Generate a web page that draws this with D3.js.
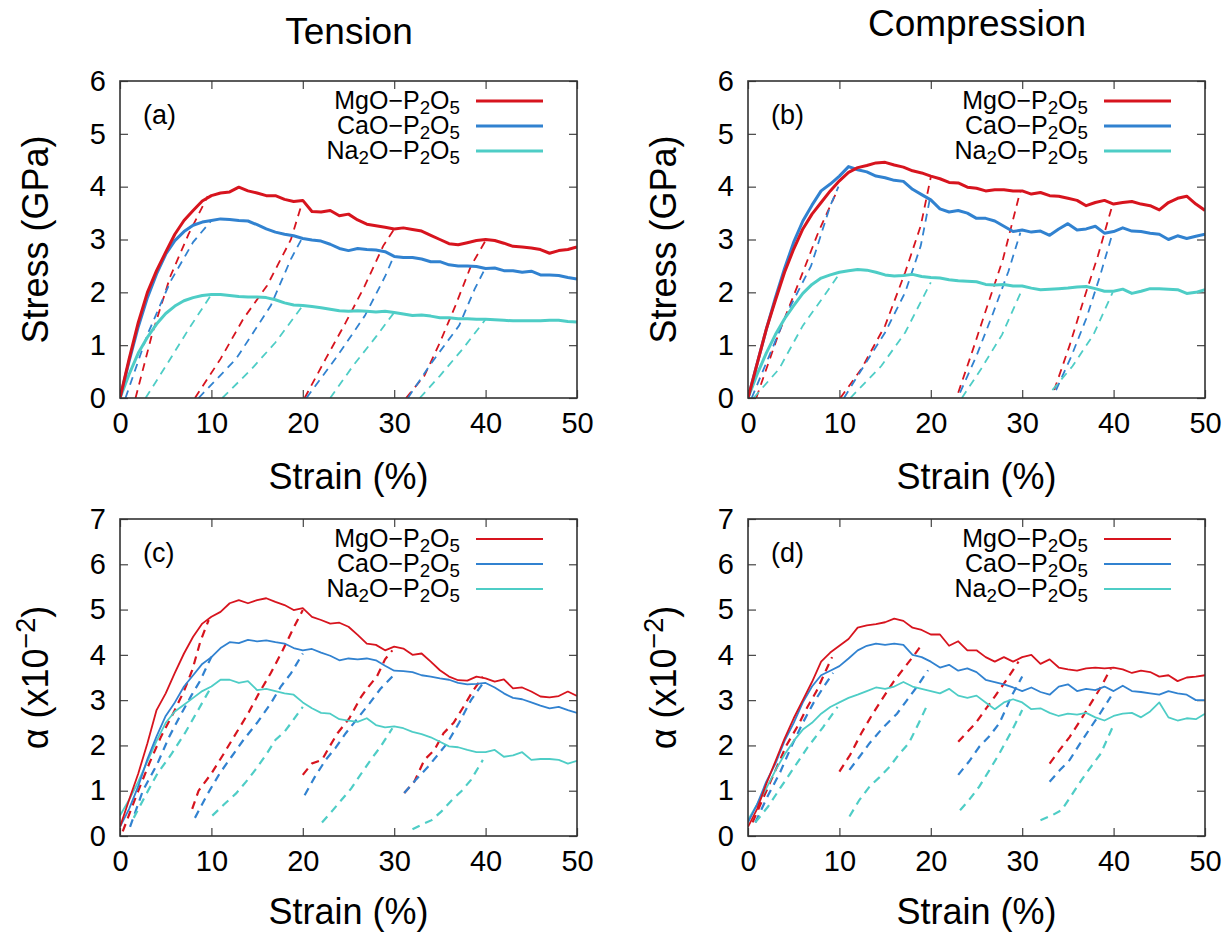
<!DOCTYPE html>
<html><head><meta charset="utf-8">
<script src="https://cdn.jsdelivr.net/npm/d3@7/dist/d3.min.js"></script>
<style>body{margin:0;background:#fff}</style>
</head><body>
<svg id="chart" width="1230" height="932"></svg>
<script>
// ---------------- DATA ----------------
const strainGrid = [0,1,2,3,4,5,6,7,8,9,10,11,12,13,14,15,16,17,18,19,20,21,22,23,24,25,26,27,28,29,30,31,32,33,34,35,36,37,38,39,40,41,42,43,44,45,46,47,48,49,50];
const seriesNames = ["MgO-P2O5","CaO-P2O5","Na2O-P2O5"];
const xTicks = [0,10,20,30,40,50];
const stressTicks = [0,1,2,3,4,5,6];
const alphaTicks = [0,1,2,3,4,5,6,7];
const panelLabels = ["(a)","(b)","(c)","(d)"];
const columnTitles = ["Tension","Compression"];

// (a) tension stress, solid
const tenStressMg = [0,0.74,1.43,2.0,2.41,2.76,3.1,3.36,3.55,3.73,3.83,3.88,3.9,3.99,3.92,3.88,3.83,3.83,3.76,3.72,3.74,3.53,3.52,3.55,3.45,3.48,3.37,3.29,3.26,3.23,3.2,3.22,3.19,3.16,3.08,3.0,2.92,2.9,2.94,2.98,3.0,2.98,2.93,2.87,2.86,2.84,2.81,2.74,2.79,2.81,2.86];
const tenStressCa = [0,0.7,1.35,1.9,2.35,2.72,2.98,3.15,3.27,3.33,3.36,3.39,3.38,3.36,3.35,3.28,3.2,3.14,3.1,3.07,3.02,2.99,2.97,2.91,2.83,2.79,2.83,2.81,2.8,2.77,2.68,2.66,2.66,2.63,2.58,2.58,2.52,2.5,2.5,2.49,2.45,2.46,2.41,2.41,2.38,2.4,2.33,2.33,2.32,2.28,2.25];
const tenStressNa = [0,0.45,0.85,1.15,1.4,1.6,1.74,1.84,1.9,1.94,1.96,1.96,1.94,1.92,1.91,1.91,1.9,1.86,1.8,1.76,1.75,1.73,1.71,1.68,1.65,1.64,1.65,1.64,1.63,1.64,1.62,1.59,1.56,1.57,1.55,1.52,1.52,1.5,1.5,1.49,1.49,1.48,1.47,1.46,1.46,1.46,1.46,1.47,1.47,1.45,1.44];
// (a) reloading curves, dashed: [strain, stress]
const tenStressMgDash = [
  [[1.7,0],[3.5,1.2],[5.5,2.3],[7.5,3.1],[9.6,3.82]],
  [[8.2,0],[11,0.74],[13.5,1.5],[16.1,2.13],[18.7,3.0],[19.9,3.68]],
  [[20.2,0],[22.5,0.74],[24.7,1.43],[26.8,2.13],[28.8,2.88],[30,3.2]],
  [[31.3,0],[33.3,0.42],[35,1.05],[36.7,1.75],[38.4,2.5],[40,2.98]]];
const tenStressCaDash = [
  [[0.6,0],[3,1.2],[5.5,2.2],[8,2.95],[10,3.36]],
  [[8.6,0],[12.7,0.74],[16.5,1.75],[18.7,2.63],[20,3.05]],
  [[20.4,0],[23.8,0.8],[26.8,1.56],[29,2.3],[30,2.7]],
  [[31.5,0],[34.1,0.67],[37.1,1.37],[38.8,2.06],[40,2.47]]];
const tenStressNaDash = [
  [[2.8,0],[5,0.6],[7.5,1.3],[10,1.96]],
  [[11.2,0],[14.4,0.55],[17,1.05],[20,1.75]],
  [[23,0],[25.5,0.61],[28.1,1.18],[30,1.62]],
  [[32.8,0],[35,0.42],[37.5,0.93],[40,1.49]]];

// (b) compression stress, solid
const comStressMg = [0,0.65,1.3,1.85,2.38,2.82,3.2,3.48,3.7,3.92,4.11,4.27,4.36,4.4,4.45,4.46,4.41,4.37,4.3,4.26,4.2,4.15,4.08,4.07,3.99,3.97,3.92,3.94,3.94,3.92,3.92,3.86,3.89,3.83,3.82,3.78,3.74,3.64,3.7,3.74,3.67,3.7,3.72,3.67,3.64,3.56,3.7,3.78,3.82,3.67,3.55];
const comStressCa = [0,0.65,1.3,1.9,2.45,2.95,3.35,3.65,3.92,4.05,4.2,4.38,4.32,4.28,4.2,4.17,4.12,4.1,3.95,3.85,3.75,3.58,3.52,3.55,3.5,3.4,3.4,3.35,3.25,3.15,3.18,3.14,3.16,3.08,3.2,3.3,3.18,3.2,3.25,3.12,3.15,3.22,3.16,3.15,3.12,3.1,3.0,3.07,3.02,3.06,3.1];
const comStressNa = [0,0.45,0.85,1.2,1.5,1.75,1.98,2.15,2.27,2.33,2.38,2.41,2.43,2.42,2.38,2.33,2.31,2.32,2.34,2.3,2.28,2.27,2.24,2.22,2.21,2.2,2.15,2.14,2.15,2.12,2.12,2.08,2.05,2.06,2.07,2.08,2.1,2.11,2.07,2.02,2.02,2.06,1.98,2.02,2.07,2.07,2.06,2.05,1.98,2.0,2.05];
const comStressMgDash = [
  [[0.9,0],[3.4,1.24],[6,2.38],[7.7,3.14],[9.7,3.9]],
  [[10.1,0],[12.4,0.55],[15,1.37],[17.2,2.38],[18.9,3.26],[20,4.18]],
  [[23,0.1],[24.5,0.86],[26.2,1.75],[27.9,2.63],[29.8,3.92]],
  [[33.5,0.15],[35.2,1.0],[36.8,1.9],[38.3,2.7],[39.9,3.67]]];
const comStressCaDash = [
  [[0.4,0],[4.3,1.62],[6.9,2.5],[9,3.64],[9.9,4.0]],
  [[10.5,0],[12,0.42],[15,1.24],[17.2,2.0],[18.9,2.88],[20,3.86]],
  [[23.2,0.1],[25,0.8],[26.8,1.6],[28.5,2.4],[29.8,3.13]],
  [[33.7,0.15],[35.4,0.8],[37,1.5],[38.5,2.3],[39.9,3.13]]];
const comStressNaDash = [
  [[0.6,0],[3.4,0.55],[6,1.37],[8.6,2.0],[10.1,2.38]],
  [[11.2,0],[14.6,0.61],[17.2,1.24],[20,2.19]],
  [[23.4,0],[25.5,0.55],[27.8,1.2],[30,2.06]],
  [[33.3,0.15],[35.5,0.6],[37.8,1.2],[39.9,2.0]]];

// (c) tension alpha, solid
const tenAlphaMg = [0.2,0.8,1.38,2.05,2.78,3.15,3.6,4.03,4.4,4.69,4.84,4.95,5.14,5.21,5.14,5.21,5.25,5.17,5.1,4.99,5.03,4.84,4.77,4.69,4.71,4.62,4.44,4.25,4.22,4.1,4.18,4.14,4.0,4.03,3.85,3.66,3.52,3.44,3.43,3.52,3.48,3.41,3.46,3.26,3.28,3.19,3.08,3.06,3.09,3.19,3.09];
const tenAlphaCa = [0.2,0.6,1.1,1.7,2.2,2.65,2.95,3.3,3.55,3.8,3.95,4.15,4.28,4.26,4.33,4.3,4.32,4.28,4.25,4.15,4.1,4.13,4.05,3.98,3.88,3.92,3.9,3.92,3.88,3.76,3.65,3.64,3.62,3.55,3.52,3.48,3.45,3.38,3.35,3.36,3.38,3.28,3.15,3.05,3.02,2.95,2.88,2.82,2.85,2.78,2.72];
const tenAlphaNa = [0.45,0.8,1.2,1.65,2.1,2.5,2.75,2.9,3.05,3.2,3.3,3.45,3.45,3.38,3.42,3.22,3.25,3.2,3.15,3.12,2.95,2.82,2.72,2.7,2.58,2.55,2.52,2.6,2.45,2.4,2.42,2.38,2.3,2.25,2.18,2.08,1.98,1.96,1.9,1.85,1.85,1.9,1.75,1.78,1.85,1.68,1.7,1.7,1.68,1.6,1.66];
const tenAlphaMgDash = [
  [[0.3,0.1],[1.8,0.9],[3.2,1.6],[4.5,2.2],[5.8,2.7],[7,3.2],[7.9,3.66],[8.8,4.3],[9.7,4.77]],
  [[7.9,0.6],[8.6,1.0],[10,1.38],[11.3,1.8],[12.7,2.27],[14,2.7],[15.2,3.15],[16.5,3.6],[17.8,4.1],[19,4.6],[20,4.99]],
  [[20,1.35],[21,1.6],[22.1,1.68],[23,2.0],[23.8,2.27],[25.1,2.6],[26.4,3.08],[27.2,3.3],[28.1,3.52],[29,3.9],[29.8,4.1]],
  [[31.1,0.95],[32.2,1.2],[33.3,1.68],[34.4,1.9],[35.4,2.27],[36.5,2.5],[37.6,2.86],[38.6,3.2],[39.7,3.52]]];
const tenAlphaCaDash = [
  [[1.1,0.2],[2.5,1.0],[4.1,1.6],[5.4,2.2],[6.7,2.7],[7.8,3.1],[8.8,3.44],[10,3.96]],
  [[8.2,0.4],[9.5,0.9],[10.9,1.38],[12.2,1.75],[13.5,2.12],[15,2.5],[16.5,2.93],[17.6,3.3],[18.7,3.59],[20,4.03]],
  [[20.2,0.9],[21.3,1.3],[22.5,1.68],[23.6,1.95],[24.7,2.27],[26,2.6],[27.3,2.93],[28.5,3.25],[29.8,3.52]],
  [[31.1,0.95],[32.4,1.25],[33.7,1.53],[34.8,1.8],[35.8,2.05],[37.1,2.5],[38.4,3.0],[39.7,3.37]]];
const tenAlphaNaDash = [
  [[1.5,0.4],[2.8,0.9],[4.1,1.38],[5.6,1.8],[7.1,2.27],[8.6,2.8],[10,3.3]],
  [[10.1,0.45],[11.4,0.7],[12.7,0.94],[13.8,1.2],[14.8,1.46],[16,1.8],[17,2.12],[18,2.3],[18.7,2.49],[20,2.85]],
  [[22.1,0.3],[23.2,0.55],[24.2,0.79],[25.3,1.05],[26.4,1.38],[27.5,1.7],[28.5,1.97],[29.8,2.38]],
  [[32,0.15],[33,0.25],[34.1,0.35],[35.2,0.55],[36.3,0.79],[37.4,1.0],[38.4,1.24],[39.7,1.68]]];

// (d) compression alpha, solid
const comAlphaMg = [0.2,0.6,1.15,1.65,2.15,2.6,3.0,3.4,3.85,4.05,4.2,4.35,4.6,4.65,4.68,4.72,4.8,4.75,4.6,4.55,4.45,4.45,4.2,4.3,4.1,4.1,3.95,3.85,3.95,3.85,3.95,4.0,3.8,3.9,3.72,3.68,3.65,3.7,3.72,3.7,3.72,3.68,3.6,3.65,3.62,3.52,3.55,3.42,3.5,3.52,3.55];
const comAlphaCa = [0.3,0.7,1.2,1.6,2.1,2.5,2.95,3.3,3.55,3.65,3.75,3.92,4.1,4.2,4.25,4.22,4.25,4.22,4.0,3.95,3.85,3.72,3.78,3.65,3.7,3.62,3.45,3.4,3.35,3.28,3.2,3.28,3.18,3.12,3.3,3.35,3.2,3.25,3.22,3.3,3.2,3.32,3.2,3.18,3.15,3.12,3.2,3.15,3.12,3.0,3.0];
const comAlphaNa = [0.35,0.7,1.05,1.45,1.8,2.1,2.35,2.5,2.7,2.85,2.95,3.05,3.12,3.2,3.28,3.25,3.3,3.4,3.3,3.25,3.2,3.15,3.25,3.1,3.05,3.1,2.95,2.8,2.95,3.02,2.95,2.8,2.82,2.72,2.65,2.7,2.68,2.72,2.62,2.55,2.65,2.7,2.72,2.62,2.75,2.95,2.62,2.55,2.6,2.58,2.7];
const comAlphaMgDash = [
  [[0.5,0.3],[1.8,0.9],[3,1.45],[4.2,2.0],[5.5,2.45],[6.5,2.85],[7.5,3.2],[8.4,3.6],[9.2,3.95]],
  [[10,1.42],[11.2,1.8],[12.4,2.27],[13.5,2.65],[14.6,3.0],[15.9,3.4],[17.2,3.74],[18.2,4.0],[19.1,4.25]],
  [[23,2.08],[24,2.3],[24.9,2.49],[26,2.8],[27,3.08],[28.3,3.45],[29.6,3.85]],
  [[33,1.6],[34.1,1.9],[35.2,2.19],[36.2,2.5],[37.3,2.86],[38.5,3.25],[39.7,3.7]]];
const comAlphaCaDash = [
  [[0.8,0.3],[2.2,0.9],[3.5,1.4],[4.8,2.0],[6,2.5],[7.2,2.95],[8.3,3.3],[9.3,3.6]],
  [[11.1,1.46],[12.2,1.75],[13.3,2.05],[14.8,2.4],[16.3,2.7],[17.4,3.0],[18.5,3.3],[19.7,3.66]],
  [[23,1.35],[24.2,1.65],[25.3,1.97],[26.4,2.2],[27.5,2.49],[28.2,2.8],[28.8,3.08],[30,3.52]],
  [[33,1.2],[34.1,1.45],[35.2,1.68],[36.2,2.0],[37.3,2.34],[38.5,2.7],[39.7,3.08]]];
const comAlphaNaDash = [
  [[0.8,0.3],[2.2,0.65],[3.5,1.05],[5,1.5],[6.5,1.95],[8.2,2.4],[9.8,2.85]],
  [[11.1,0.43],[12.2,0.8],[13.3,1.09],[14.4,1.3],[15.5,1.53],[16.5,1.8],[17.6,2.05],[18.7,2.5],[19.7,2.93]],
  [[23.2,0.57],[24.2,0.8],[25.3,1.09],[26.4,1.45],[27.5,1.82],[28.8,2.3],[30,2.78]],
  [[32,0.35],[33.2,0.45],[34.3,0.57],[35.4,0.9],[36.5,1.24],[37.6,1.55],[38.6,1.82],[39.9,2.41]]];

// ---------------- DRAWING ----------------
const colors = ["#d7141e", "#3182d0", "#4ecdc6"];
const FONT = "'Liberation Sans', Arial, Helvetica, sans-serif";
const svg = d3.select("#chart");
svg.append("rect").attr("width",1230).attr("height",932).attr("fill","#fff");

const layout = {
  cols: [{x0:120, x1:577}, {x0:748, x1:1205}],
  rows: [{y0:81, y1:398}, {y0:519, y1:836}]
};

function addSubText(t, name) {
  // "Na2O-P2O5" -> digits drawn as subscripts
  const parts = name.replace("-", "\u2212").split(/(\d)/).filter(p => p !== "");
  let lowered = false;
  parts.forEach(p => {
    if (/\d/.test(p)) {
      t.append("tspan").attr("dy", "0.28em").attr("font-size", "0.75em").text(p);
      lowered = true;
    } else {
      const ts = t.append("tspan").text(p);
      if (lowered) { ts.attr("dy", "-0.21em"); lowered = false; }
    }
  });
}

function drawPanel(p) {
  const col = layout.cols[p.col], row = layout.rows[p.row];
  const x = d3.scaleLinear().domain([0,50]).range([col.x0, col.x1]);
  const y = d3.scaleLinear().domain([0,p.yMax]).range([row.y1, row.y0]);
  const g = svg.append("g");
  const clipId = "clip" + p.label.replace(/\W/g,"");
  svg.append("clipPath").attr("id", clipId).append("rect")
    .attr("x", col.x0).attr("y", row.y0).attr("width", col.x1-col.x0).attr("height", row.y1-row.y0);

  // axes with inward ticks on all four sides
  const tk = 8;
  const axB = d3.axisBottom(x).tickValues(xTicks).tickSize(-tk).tickPadding(14).tickFormat(d3.format("d"));
  const axT = d3.axisTop(x).tickValues(xTicks).tickSize(-tk).tickFormat("");
  const axL = d3.axisLeft(y).tickValues(p.yTicks).tickSize(-tk).tickPadding(14).tickFormat(d3.format("d"));
  const axR = d3.axisRight(y).tickValues(p.yTicks).tickSize(-tk).tickFormat("");
  [[axB,`translate(0,${row.y1})`,true],[axT,`translate(0,${row.y0})`,false],
   [axL,`translate(${col.x0},0)`,true],[axR,`translate(${col.x1},0)`,false]]
    .forEach(([ax,tr,labels]) => {
      const a = g.append("g").attr("transform", tr).call(ax);
      a.select(".domain").remove();
      a.selectAll("line").attr("stroke","#444").attr("stroke-width",1.2);
      if (labels) {
        a.selectAll("text").attr("font-family",FONT).attr("font-size",29).attr("fill","#000");
      } else {
        a.selectAll("text").remove();
      }
    });

  const line = d3.line().x(d => x(d[0])).y(d => y(d[1]));
  const plot = g.append("g").attr("clip-path", `url(#${clipId})`);
  // dashed reloading curves
  p.dashed.forEach((segs, i) => {
    segs.forEach(seg => {
      plot.append("path").attr("d", line(seg)).attr("fill","none")
        .attr("stroke", colors[i]).attr("stroke-width", p.dashW)
        .attr("stroke-dasharray","8,6");
    });
  });
  // solid curves (red on top)
  [2,1,0].forEach(i => {
    const pts = strainGrid.map((s,k) => [s, p.solid[i][k]]);
    plot.append("path").attr("d", line(pts)).attr("fill","none")
      .attr("stroke", colors[i]).attr("stroke-width", p.solidW).attr("stroke-linejoin","round");
  });

  // frame
  g.append("rect").attr("x",col.x0).attr("y",row.y0).attr("width",col.x1-col.x0).attr("height",row.y1-row.y0)
    .attr("fill","none").attr("stroke","#333").attr("stroke-width",1.6);

  // panel label
  g.append("text").attr("x", col.x0+23).attr("y", row.y0+43).attr("font-family",FONT)
    .attr("font-size",27).text(p.label);

  // legend
  seriesNames.forEach((name,i) => {
    const ly = row.y0 + 20 + i*25;
    const t = g.append("text").attr("x", col.x1-117).attr("y", ly+8).attr("text-anchor","end")
      .attr("font-family",FONT).attr("font-size",25);
    addSubText(t, name);
    g.append("line").attr("x1", col.x1-101).attr("x2", col.x1-34).attr("y1", ly).attr("y2", ly)
      .attr("stroke", colors[i]).attr("stroke-width", p.solidW);
  });

  // axis titles
  g.append("text").attr("x", (col.x0+col.x1)/2).attr("y", row.y1 + (p.row === 0 ? 91 : 88))
    .attr("text-anchor","middle").attr("font-family",FONT).attr("font-size",36).text("Strain (%)");
  const yl = g.append("text").attr("transform", `translate(${col.x0-72},${(row.y0+row.y1)/2}) rotate(-90)`)
    .attr("text-anchor","middle").attr("font-family",FONT).attr("font-size",36);
  if (p.kind === "stress") {
    yl.text("Stress (GPa)");
  } else {
    yl.append("tspan").text("\u03b1 (x10");
    yl.append("tspan").attr("dy","-0.5em").attr("font-size","0.75em").text("\u22122");
    yl.append("tspan").attr("dy","0.38em").text(")");
  }
}

const panels = [
  {col:0,row:0,label:panelLabels[0],yMax:6,yTicks:stressTicks,kind:"stress",solidW:3,dashW:1.8,
   solid:[tenStressMg,tenStressCa,tenStressNa],dashed:[tenStressMgDash,tenStressCaDash,tenStressNaDash]},
  {col:1,row:0,label:panelLabels[1],yMax:6,yTicks:stressTicks,kind:"stress",solidW:3,dashW:1.8,
   solid:[comStressMg,comStressCa,comStressNa],dashed:[comStressMgDash,comStressCaDash,comStressNaDash]},
  {col:0,row:1,label:panelLabels[2],yMax:7,yTicks:alphaTicks,kind:"alpha",solidW:1.8,dashW:2.2,
   solid:[tenAlphaMg,tenAlphaCa,tenAlphaNa],dashed:[tenAlphaMgDash,tenAlphaCaDash,tenAlphaNaDash]},
  {col:1,row:1,label:panelLabels[3],yMax:7,yTicks:alphaTicks,kind:"alpha",solidW:1.8,dashW:2.2,
   solid:[comAlphaMg,comAlphaCa,comAlphaNa],dashed:[comAlphaMgDash,comAlphaCaDash,comAlphaNaDash]}
];
panels.forEach(drawPanel);

// column titles
svg.append("text").attr("x",349).attr("y",44).attr("text-anchor","middle")
  .attr("font-family",FONT).attr("font-size",37).text(columnTitles[0]);
svg.append("text").attr("x",977).attr("y",36).attr("text-anchor","middle")
  .attr("font-family",FONT).attr("font-size",37).text(columnTitles[1]);
</script>
</body></html>
